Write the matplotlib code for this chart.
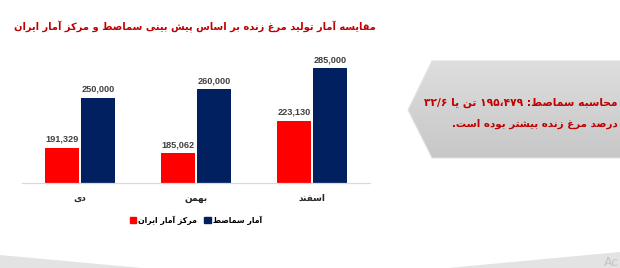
import re
import numpy as np
import matplotlib
matplotlib.use("Agg")
import matplotlib.pyplot as plt
from matplotlib.patches import Polygon, Rectangle

# ---------------- data ----------------
categories = ["دی", "بهمن", "اسفند"]
series_names = ["مرکز آمار ایران", "آمار سماصط"]
iran_stats = [191329, 185062, 223130]
samast = [250000, 260000, 285000]
title_text = "مقایسه آمار تولید مرغ زنده بر اساس پیش بینی سماصط و مرکز آمار ایران"
note_line1 = "محاسبه سماصط: ۱۹۵،۴۷۹ تن یا ۳۲/۶"
note_line2 = "درصد مرغ زنده بیشتر بوده است."

RED = "#ff0000"
NAVY = "#002060"
DARKRED = "#c00000"

# ---------------- simple Arabic/Persian shaper ----------------
# (isolated, final, initial, medial)
FORMS = {
    'ا': ('\uFE8D', '\uFE8E', None, None),
    'آ': ('\uFE81', '\uFE82', None, None),
    'ب': ('\uFE8F', '\uFE90', '\uFE91', '\uFE92'),
    'پ': ('\uFB56', '\uFB57', '\uFB58', '\uFB59'),
    'ت': ('\uFE95', '\uFE96', '\uFE97', '\uFE98'),
    'ث': ('\uFE99', '\uFE9A', '\uFE9B', '\uFE9C'),
    'ج': ('\uFE9D', '\uFE9E', '\uFE9F', '\uFEA0'),
    'چ': ('\uFB7A', '\uFB7B', '\uFB7C', '\uFB7D'),
    'ح': ('\uFEA1', '\uFEA2', '\uFEA3', '\uFEA4'),
    'خ': ('\uFEA5', '\uFEA6', '\uFEA7', '\uFEA8'),
    'د': ('\uFEA9', '\uFEAA', None, None),
    'ذ': ('\uFEAB', '\uFEAC', None, None),
    'ر': ('\uFEAD', '\uFEAE', None, None),
    'ز': ('\uFEAF', '\uFEB0', None, None),
    'ژ': ('\uFB8A', '\uFB8B', None, None),
    'س': ('\uFEB1', '\uFEB2', '\uFEB3', '\uFEB4'),
    'ش': ('\uFEB5', '\uFEB6', '\uFEB7', '\uFEB8'),
    'ص': ('\uFEB9', '\uFEBA', '\uFEBB', '\uFEBC'),
    'ض': ('\uFEBD', '\uFEBE', '\uFEBF', '\uFEC0'),
    'ط': ('\uFEC1', '\uFEC2', '\uFEC3', '\uFEC4'),
    'ظ': ('\uFEC5', '\uFEC6', '\uFEC7', '\uFEC8'),
    'ع': ('\uFEC9', '\uFECA', '\uFECB', '\uFECC'),
    'غ': ('\uFECD', '\uFECE', '\uFECF', '\uFED0'),
    'ف': ('\uFED1', '\uFED2', '\uFED3', '\uFED4'),
    'ق': ('\uFED5', '\uFED6', '\uFED7', '\uFED8'),
    'ک': ('\uFB8E', '\uFB8F', '\uFB90', '\uFB91'),
    'گ': ('\uFB92', '\uFB93', '\uFB94', '\uFB95'),
    'ل': ('\uFEDD', '\uFEDE', '\uFEDF', '\uFEE0'),
    'م': ('\uFEE1', '\uFEE2', '\uFEE3', '\uFEE4'),
    'ن': ('\uFEE5', '\uFEE6', '\uFEE7', '\uFEE8'),
    'ه': ('\uFEE9', '\uFEEA', '\uFEEB', '\uFEEC'),
    'و': ('\uFEED', '\uFEEE', None, None),
    'ی': ('\uFBFC', '\uFBFD', '\uFBFE', '\uFBFF'),
}


def shape(text):
    out = []
    n = len(text)
    for i, ch in enumerate(text):
        if ch not in FORMS:
            out.append(ch)
            continue
        iso, fin, ini, med = FORMS[ch]
        prev = text[i - 1] if i > 0 else None
        nxt = text[i + 1] if i < n - 1 else None
        jp = prev in FORMS and FORMS[prev][2] is not None
        jn = ini is not None and nxt in FORMS
        if jp and jn:
            out.append(med)
        elif jp:
            out.append(fin)
        elif jn:
            out.append(ini)
        else:
            out.append(iso)
    return "".join(out)


NUM_RE = re.compile(r"[0-9\u06F0-\u06F9]+(?:[\u060C,/.][0-9\u06F0-\u06F9]+)*")


def rtl(text):
    s = shape(text)[::-1]
    return NUM_RE.sub(lambda m: m.group(0)[::-1], s)


AR_FONT = ["DejaVu Sans"]

# ---------------- figure ----------------
W, H = 620, 268
fig = plt.figure(figsize=(W / 100, H / 100), dpi=100)
fig.patch.set_facecolor("white")

# background / decoration layer in pixel coordinates
bg = fig.add_axes([0, 0, 1, 1])
bg.set_xlim(0, W)
bg.set_ylim(H, 0)
bg.axis("off")

# bottom gray wedges
bg.add_patch(Polygon([(0, 255), (142, 268), (0, 268)], closed=True,
                     facecolor="#e3e3e3", edgecolor="none"))
bg.add_patch(Polygon([(448, 268), (620, 252), (620, 268)], closed=True,
                     facecolor="#e3e3e3", edgecolor="none"))
bg.text(619, 262, "Ac", fontsize=9, color="#c4c4c4", ha="right", va="center",
        family="DejaVu Sans")

# callout shape with gradient
poly = Polygon([(432, 61), (621, 61), (621, 158), (432, 158), (408, 110)], closed=True,
               facecolor="none", edgecolor="#e2e2e2", linewidth=0.8)
bg.add_patch(poly)
grad = np.linspace(0, 1, 100).reshape(-1, 1)
top_c = np.array([0.87, 0.87, 0.87])
bot_c = np.array([0.78, 0.78, 0.78])
img = top_c[None, None, :] * (1 - grad[..., None]) + bot_c[None, None, :] * grad[..., None]
img = np.repeat(img, 2, axis=1)
im = bg.imshow(img, extent=(408, 621, 158, 61), aspect="auto", zorder=0.5)
im.set_clip_path(poly)

bg.text(618, 103, rtl(note_line1), fontsize=7.7, fontweight="bold", color=DARKRED,
        ha="right", va="center", family=AR_FONT)
bg.text(618, 124, rtl(note_line2), fontsize=7.4, fontweight="bold", color=DARKRED,
        ha="right", va="center", family=AR_FONT)

# title
bg.text(195, 27, rtl(title_text), fontsize=7.1, fontweight="bold", color=DARKRED,
        ha="center", va="center", family=AR_FONT)

# ---------------- bar chart ----------------
ax = fig.add_axes([22 / W, (H - 183) / H, 348 / W, 127.5 / H])
ax.set_facecolor("none")
x = np.arange(len(categories))
bw = 0.285
off = 0.155
b1 = ax.bar(x - off, iran_stats, bw, color=RED, zorder=2)
b2 = ax.bar(x + off, samast, bw, color=NAVY, zorder=2)
ax.set_ylim(150000, 300000)
ax.set_xlim(-0.5, len(categories) - 0.5)

for bars, vals in ((b1, iran_stats), (b2, samast)):
    for r, v in zip(bars, vals):
        ax.annotate(f"{v:,}", (r.get_x() + r.get_width() / 2, v),
                    xytext=(0, 3), textcoords="offset points",
                    ha="center", va="bottom", fontsize=6.6, fontweight="bold",
                    color="#404040", family="Liberation Sans")

for s in ("top", "right", "left"):
    ax.spines[s].set_visible(False)
ax.spines["bottom"].set_color("#d9d9d9")
ax.spines["bottom"].set_linewidth(0.9)
ax.set_yticks([])
ax.set_xticks(x)
ax.set_xticklabels([rtl(c) for c in categories], family=AR_FONT, fontsize=6.5,
                   fontweight="bold", color="#262626")
ax.tick_params(axis="x", length=0, pad=8)

handles = [Rectangle((0, 0), 1, 1, color=RED), Rectangle((0, 0), 1, 1, color=NAVY)]
leg = fig.legend(handles, [rtl(s) for s in series_names], loc="center",
                 bbox_to_anchor=(196 / W, 1 - 220 / H), ncol=2, frameon=False,
                 prop={"family": AR_FONT, "size": 5.6, "weight": "bold"},
                 handlelength=0.8, handleheight=0.8, handletextpad=0.3,
                 columnspacing=0.9, borderpad=0)

fig.savefig("out.png", dpi=100, facecolor="white")
